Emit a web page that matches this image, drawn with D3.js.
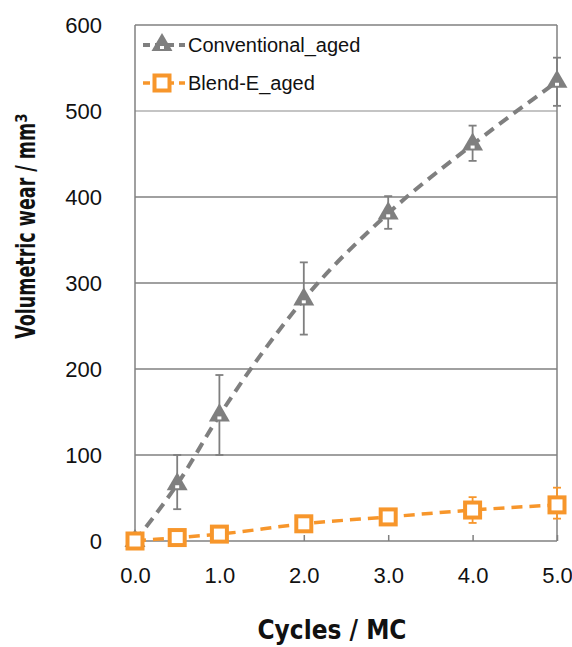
<!DOCTYPE html>
<html>
<head>
<meta charset="utf-8">
<script src="https://cdn.jsdelivr.net/npm/d3@7"></script>
<style>
  body { margin: 0; background: #fff; }
  svg { display: block; }
  .tick-label { font-family: "Liberation Sans", Arial, sans-serif; font-size: 22px; fill: #111; }
  .title { font-family: "DejaVu Sans Condensed", "Liberation Sans", sans-serif; font-weight: bold; font-size: 26px; fill: #111; }
  .legend-text { font-family: "Liberation Sans", Arial, sans-serif; font-size: 20px; fill: #111; }
</style>
</head>
<body>
<div class="chart"></div>
<script>
// Data

const cycles = [0, 0.5, 1.0, 2.0, 3.0, 4.0, 5.0];
const conventional = [0, 66, 146, 281, 381, 461, 534];
const conventionalErr = [[0, 0], [37, 100], [100, 193], [240, 324], [363, 401], [442, 483], [506, 562]];
const blendE = [0, 4, 8, 20, 28, 36, 42];
const blendEErr = [[0, 0], [2, 6], [5, 11], [16, 24], [22, 33], [21, 51], [26, 62]];
const yTicks = [0, 100, 200, 300, 400, 500, 600];
const xTicks = [0, 1, 2, 3, 4, 5];
const seriesNames = ["Conventional_aged", "Blend-E_aged"];

// Measurements

const width = 572;
const height = 647;
const margin = { top: 25, right: 15, bottom: 106, left: 135 };
const w = width - margin.left - margin.right;
const h = height - margin.top - margin.bottom;
const gray = "#7f7f7f";
const orange = "#f7962b";

const svg = d3
  .select(".chart")
  .append("svg")
  .attr("width", width)
  .attr("height", height);

const g = svg.append("g").attr("transform", `translate(${margin.left}, ${margin.top})`);

// Scales

const xScale = d3.scaleLinear().domain([0, 5]).range([0, w]);
const yScale = d3.scaleLinear().domain([0, 600]).range([h, 0]);

// Gridlines

g.selectAll(".grid")
  .data(yTicks)
  .enter()
  .append("line")
  .attr("x1", 0)
  .attr("x2", w)
  .attr("y1", (d) => yScale(d))
  .attr("y2", (d) => yScale(d))
  .attr("stroke", (d) => (d === 500 ? "#b0b0b0" : "#808080"))
  .attr("stroke-width", 1.5);

// Frame

g.append("line").attr("x1", 0).attr("x2", 0).attr("y1", 0).attr("y2", h)
  .attr("stroke", "#808080").attr("stroke-width", 1.5);
g.append("line").attr("x1", w).attr("x2", w).attr("y1", 0).attr("y2", h)
  .attr("stroke", "#808080").attr("stroke-width", 1.5);

// Axes

const xAxis = g
  .append("g")
  .attr("transform", `translate(0, ${h})`)
  .call(d3.axisBottom(xScale).tickValues(xTicks).tickSize(-6).tickFormat(d3.format(".1f")).tickPadding(26));
xAxis.select(".domain").remove();
xAxis.selectAll("line").attr("stroke", "#808080").attr("stroke-width", 1.5);
xAxis.selectAll("text").attr("class", "tick-label").attr("font-size", null).attr("font-family", null);

const yAxis = g
  .append("g")
  .call(d3.axisLeft(yScale).tickValues(yTicks).tickSize(0).tickPadding(33));
yAxis.select(".domain").remove();
yAxis.selectAll("text").attr("class", "tick-label").attr("font-size", null).attr("font-family", null).attr("dy", "0.36em");

// Series

const series = [
  { name: seriesNames[0], values: conventional, err: conventionalErr, color: gray, width: 4, marker: "triangle" },
  { name: seriesNames[1], values: blendE, err: blendEErr, color: orange, width: 3.5, marker: "square" },
];

const line = d3
  .line()
  .x((d) => xScale(d[0]))
  .y((d) => yScale(d[1]))
  .curve(d3.curveMonotoneX);

function drawMarker(sel, marker, color) {
  if (marker === "triangle") {
    sel.append("path")
      .attr("d", d3.symbol().type(d3.symbolTriangle).size(190)())
      .attr("fill", color);
    sel.append("rect")
      .attr("x", -2).attr("y", 1).attr("width", 4).attr("height", 3)
      .attr("fill", "#fff");
  } else {
    sel.append("rect")
      .attr("x", -7.5).attr("y", -7.5).attr("width", 15).attr("height", 15)
      .attr("fill", "#fff").attr("stroke", color).attr("stroke-width", 4);
  }
}

series.forEach((s) => {
  const pts = cycles.map((c, i) => [c, s.values[i]]);

  g.append("path")
    .datum(pts)
    .attr("fill", "none")
    .attr("stroke", s.color)
    .attr("stroke-width", s.width)
    .attr("stroke-dasharray", "11,7")
    .attr("d", line);

  // Error bars

  const eb = g.selectAll(null).data(cycles.map((c, i) => ({ c, lo: s.err[i][0], hi: s.err[i][1] }))
    .filter((d) => d.hi - d.lo > 0)).enter().append("g");
  eb.append("line")
    .attr("x1", (d) => xScale(d.c)).attr("x2", (d) => xScale(d.c))
    .attr("y1", (d) => yScale(d.lo)).attr("y2", (d) => yScale(d.hi))
    .attr("stroke", s.color).attr("stroke-width", 1.8);
  eb.append("line")
    .attr("x1", (d) => xScale(d.c) - 4).attr("x2", (d) => xScale(d.c) + 4)
    .attr("y1", (d) => yScale(d.lo)).attr("y2", (d) => yScale(d.lo))
    .attr("stroke", s.color).attr("stroke-width", 1.8);
  eb.append("line")
    .attr("x1", (d) => xScale(d.c) - 4).attr("x2", (d) => xScale(d.c) + 4)
    .attr("y1", (d) => yScale(d.hi)).attr("y2", (d) => yScale(d.hi))
    .attr("stroke", s.color).attr("stroke-width", 1.8);

  // Markers

  g.selectAll(null)
    .data(pts)
    .enter()
    .append("g")
    .attr("transform", (d) => `translate(${xScale(d[0])}, ${yScale(d[1])})`)
    .each(function () {
      drawMarker(d3.select(this), s.marker, s.color);
    });
});

// Legend

const legend = g.append("g").attr("transform", "translate(8, 20)");
series.forEach((s, i) => {
  const row = legend.append("g").attr("transform", `translate(0, ${i * 38})`);
  row.append("line")
    .attr("x1", 0).attr("x2", 42).attr("y1", 0).attr("y2", 0)
    .attr("stroke", s.color).attr("stroke-width", s.width)
    .attr("stroke-dasharray", "7,5");
  const m = row.append("g").attr("transform", "translate(19, 0)");
  drawMarker(m, s.marker, s.color);
  row.append("text")
    .attr("class", "legend-text")
    .attr("x", 45)
    .attr("y", 7)
    .text(s.name);
});

// Axis titles

const yTitle = svg.append("text")
  .attr("class", "title")
  .attr("text-anchor", "middle")
  .attr("transform", "translate(35, 226) rotate(-90)");
yTitle.append("tspan")
  .attr("textLength", 216)
  .attr("lengthAdjust", "spacingAndGlyphs")
  .text("Volumetric wear / mm");
yTitle.append("tspan")
  .attr("dy", "-0.55em")
  .attr("font-size", "15px")
  .text("3");

svg.append("text")
  .attr("class", "title")
  .attr("text-anchor", "middle")
  .attr("x", 332)
  .attr("y", 639)
  .attr("font-size", "25px")
  .attr("textLength", 149)
  .attr("lengthAdjust", "spacingAndGlyphs")
  .text("Cycles / MC");
</script>
</body>
</html>
